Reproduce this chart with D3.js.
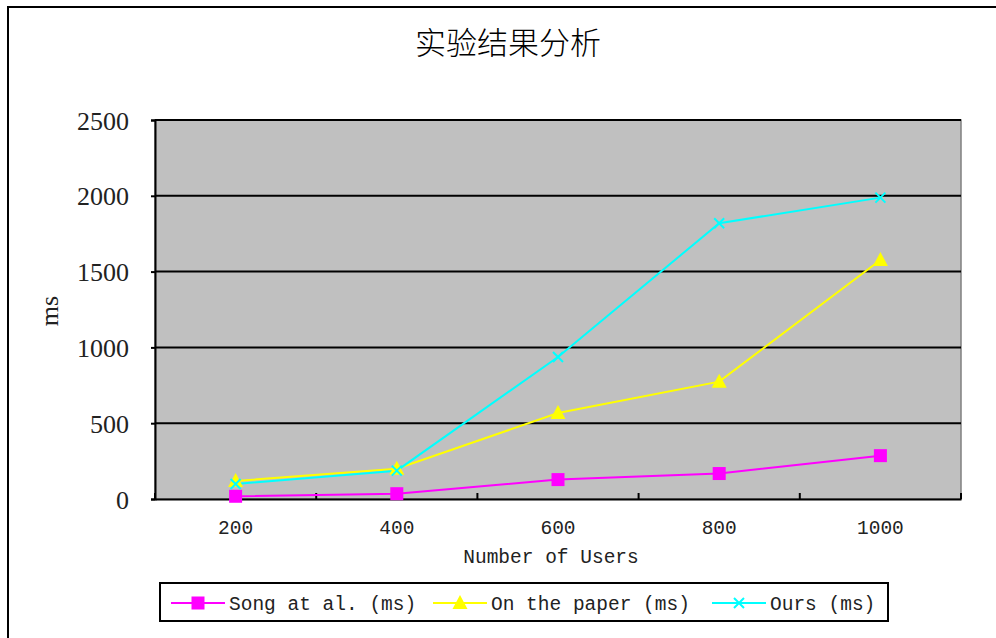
<!DOCTYPE html>
<html><head><meta charset="utf-8">
<script src="https://cdn.jsdelivr.net/npm/d3@7"></script>
<style>body{margin:0;background:#fff;}svg{display:block;}</style>
</head><body>
<svg id="chart" width="996" height="638"></svg>
<script>
const title = "实验结果分析";
const categories = ["200", "400", "600", "800", "1000"];
const songValues = [18, 35, 128, 168, 286];
const paperValues = [119, 200, 567, 774, 1577];
const oursValues = [99, 187, 937, 1819, 1988];
const yTicks = [0, 500, 1000, 1500, 2000, 2500];
const seriesNames = ["Song at al. (ms)", "On the paper (ms)", "Ours (ms)"];
const xTitle = "Number of Users";
const yTitle = "ms";

const series = [
  {name: seriesNames[0], values: songValues, color: "#ff00ff", marker: "square"},
  {name: seriesNames[1], values: paperValues, color: "#ffff00", marker: "triangle"},
  {name: seriesNames[2], values: oursValues, color: "#00ffff", marker: "x"}
];

const svg = d3.select("#chart");
const L = 155, R = 961, T = 120, B = 499;

// outer frame
svg.append("rect").attr("x", 8).attr("y", 7).attr("width", 1100).attr("height", 700)
  .attr("fill", "none").attr("stroke", "#000").attr("stroke-width", 2);

svg.append("text").attr("x", 508).attr("y", 54).attr("text-anchor", "middle")
  .attr("font-family", "Noto Sans CJK SC").attr("font-size", 31).attr("font-weight", 300)
  .attr("fill", "#000").text(title);

const x = d3.scaleBand().domain(categories).range([L, R]).padding(0);
const y = d3.scaleLinear().domain([0, 2500]).range([B, T]);

// plot bg
svg.append("rect").attr("x", L).attr("y", T).attr("width", R - L).attr("height", B - T)
  .attr("fill", "#c0c0c0").attr("stroke", "#808080").attr("stroke-width", 1.5);

// gridlines
svg.append("g").selectAll("line").data(yTicks.filter(d => d > 0)).join("line")
  .attr("x1", L).attr("x2", R).attr("y1", d => y(d)).attr("y2", d => y(d))
  .attr("stroke", "#000").attr("stroke-width", 2);

// y axis
const yAxis = svg.append("g").attr("transform", `translate(${L},0)`)
  .call(d3.axisLeft(y).tickValues(yTicks).tickFormat(d3.format("d")).tickSize(4).tickPadding(22));
yAxis.select(".domain").attr("stroke", "#000").attr("stroke-width", 2);
yAxis.selectAll(".tick line").attr("stroke", "#000").attr("stroke-width", 2);
yAxis.selectAll("text").attr("font-family", "Liberation Serif").attr("font-size", 26)
  .attr("fill", "#222").attr("dy", "0.35em");

// x axis line + inner ticks at band boundaries
const xAxis = svg.append("g").attr("transform", `translate(0,${B})`)
  .call(d3.axisBottom(x).tickSize(0).tickPadding(21));
xAxis.select(".domain").attr("stroke", "#000").attr("stroke-width", 2);
xAxis.selectAll("text").attr("font-family", "Liberation Mono").attr("font-size", 19.5)
  .attr("fill", "#222");
const bounds = categories.map(c => x(c)).concat([x(categories[categories.length - 1]) + x.bandwidth()]);
svg.append("g").selectAll("line").data(bounds).join("line")
  .attr("x1", d => d).attr("x2", d => d).attr("y1", B).attr("y2", B - 6)
  .attr("stroke", "#000").attr("stroke-width", 2);

svg.append("text").attr("x", 551).attr("y", 563).attr("text-anchor", "middle")
  .attr("font-family", "Liberation Mono").attr("font-size", 19.5).attr("fill", "#222").text(xTitle);

svg.append("text").attr("transform", "translate(58,311) rotate(-90)").attr("text-anchor", "middle")
  .attr("font-family", "Liberation Serif").attr("font-size", 26).attr("fill", "#222").text(yTitle);

const cx = d => x(d) + x.bandwidth() / 2;
const line = d3.line().x((d, i) => cx(categories[i])).y(d => y(d));

function drawMarker(g, type, color, px, py) {
  if (type === "square") {
    g.append("rect").attr("x", px - 6.5).attr("y", py - 6.5).attr("width", 13).attr("height", 13).attr("fill", color);
  } else if (type === "triangle") {
    g.append("path").attr("d", `M${px},${py - 8}L${px + 7.5},${py + 6}L${px - 7.5},${py + 6}Z`).attr("fill", color);
  } else {
    g.append("path").attr("d", `M${px - 5},${py - 5}L${px + 5},${py + 5}M${px - 5},${py + 5}L${px + 5},${py - 5}`)
      .attr("stroke", color).attr("stroke-width", 2).attr("fill", "none");
  }
}

series.forEach(s => {
  svg.append("path").datum(s.values).attr("d", line).attr("fill", "none")
    .attr("stroke", s.color).attr("stroke-width", 2);
});
series.forEach(s => {
  const g = svg.append("g");
  s.values.forEach((v, i) => drawMarker(g, s.marker, s.color, cx(categories[i]), y(v)));
});

// legend
svg.append("rect").attr("x", 160).attr("y", 583).attr("width", 728).attr("height", 38)
  .attr("fill", "#fff").attr("stroke", "#000").attr("stroke-width", 2);
const legendX = [171, 433, 712];
series.forEach((s, i) => {
  const g = svg.append("g");
  const lx = legendX[i];
  g.append("line").attr("x1", lx).attr("x2", lx + 54).attr("y1", 603).attr("y2", 603)
    .attr("stroke", s.color).attr("stroke-width", 2);
  drawMarker(g, s.marker, s.color, lx + 27, 603);
  g.append("text").attr("x", lx + 58).attr("y", 610).attr("font-family", "Liberation Mono")
    .attr("font-size", 19.5).attr("fill", "#222").text(s.name);
});
</script>
</body></html>
